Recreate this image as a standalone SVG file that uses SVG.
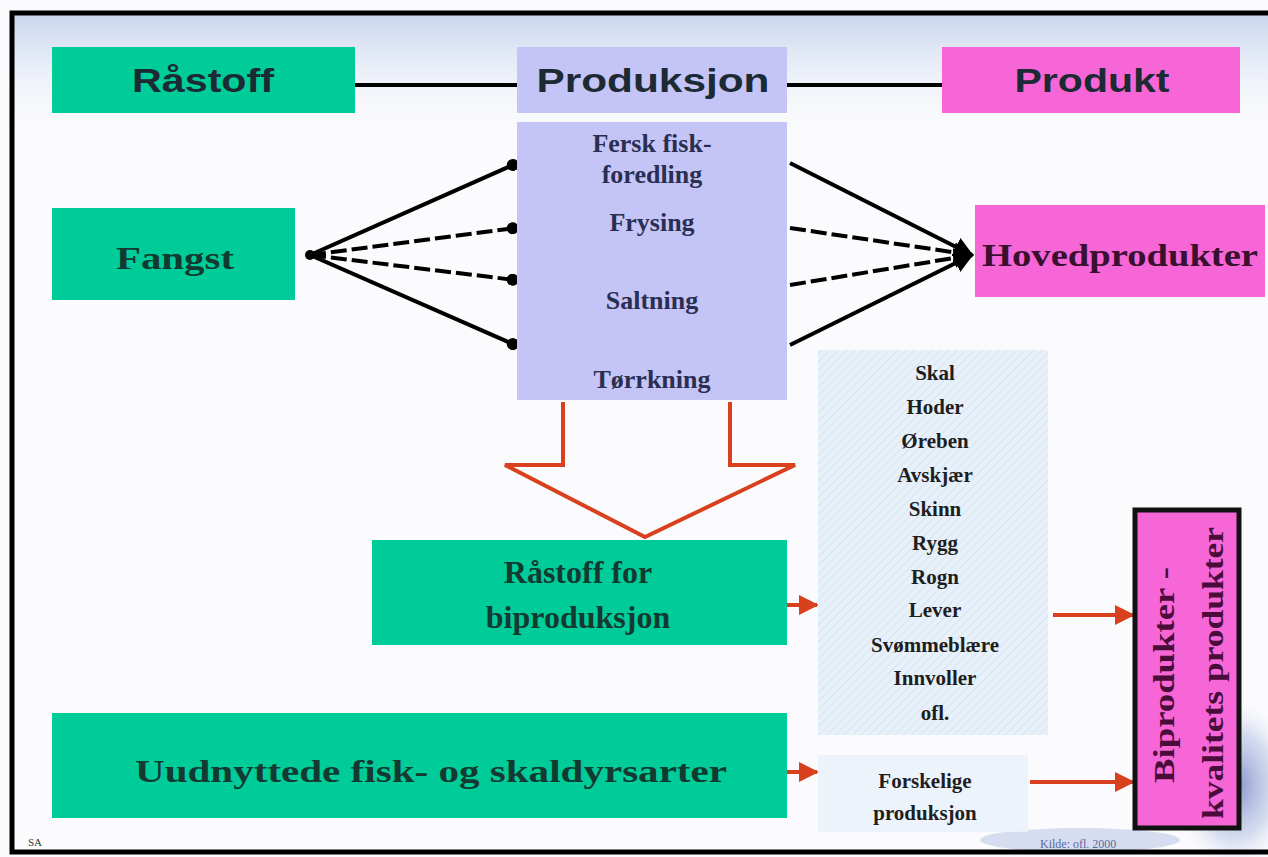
<svg xmlns="http://www.w3.org/2000/svg" width="1268" height="857" viewBox="0 0 1268 857">
  <defs>
    <linearGradient id="bgTop" x1="0" y1="0" x2="0" y2="1">
      <stop offset="0" stop-color="#c9d6ee"/>
      <stop offset="1" stop-color="#fbfbfd" stop-opacity="0"/>
    </linearGradient>
    <radialGradient id="swirl" cx="0.5" cy="0.5" r="0.5">
      <stop offset="0" stop-color="#5a6fb8" stop-opacity="0.75"/>
      <stop offset="0.6" stop-color="#a9b8e0" stop-opacity="0.45"/>
      <stop offset="1" stop-color="#ffffff" stop-opacity="0"/>
    </radialGradient>
    <pattern id="hatch" width="6" height="6" patternUnits="userSpaceOnUse" patternTransform="rotate(45)">
      <rect width="6" height="6" fill="#e8f1f9"/>
      <line x1="0" y1="0" x2="0" y2="6" stroke="#d6e4f1" stroke-width="2"/>
    </pattern>
    <marker id="dot" viewBox="0 0 10 10" refX="7" refY="5" markerWidth="3" markerHeight="3" orient="auto">
      <circle cx="5" cy="5" r="5" fill="#000"/>
    </marker>
    <marker id="blk" viewBox="0 0 10 10" refX="9" refY="5" markerWidth="5" markerHeight="5" orient="auto">
      <path d="M0,0 L10,5 L0,10 z" fill="#000"/>
    </marker>
    <marker id="red" viewBox="0 0 10 10" refX="9" refY="5" markerWidth="5" markerHeight="5" orient="auto">
      <path d="M0,0 L10,5 L0,10 z" fill="#d8401e"/>
    </marker>
    <style>
      .green { fill: #00cc99; }
      .lav { fill: #c4c4f6; }
      .pink { fill: #f766d6; }
      .hdr { font-family: "Liberation Sans", Arial, sans-serif; font-weight: bold; font-size: 34px; fill: #1b2a33; text-anchor: middle; }
      .ser { font-family: "Liberation Serif", "Times New Roman", serif; font-weight: bold; text-anchor: middle; }
      .big { font-size: 32px; fill: #123a30; }
      .mid { font-size: 26px; fill: #2a2f52; }
      .lst { font-size: 21px; fill: #1e1e1e; }
      .fan { stroke: #000; stroke-width: 4; fill: none; }
      .dash { stroke-dasharray: 16 5; }
      .redl { stroke: #d8401e; stroke-width: 4; fill: none; }
    </style>
  </defs>

  <!-- background -->
  <rect x="0" y="0" width="1268" height="857" fill="#fbfbfd"/>
  <rect x="14" y="15" width="1260" height="130" fill="url(#bgTop)"/>
  <ellipse cx="1235" cy="785" rx="65" ry="90" fill="url(#swirl)"/>
  <ellipse cx="1080" cy="840" rx="100" ry="12" fill="#a9b8e0" opacity="0.45"/>

  <!-- frame -->
  <rect x="12" y="13" width="1300" height="839" fill="none" stroke="#000" stroke-width="5"/>

  <!-- connectors -->
  <g id="connectors">
    <line x1="355" y1="85" x2="517" y2="85" stroke="#000" stroke-width="4"/>
    <line x1="787" y1="85" x2="942" y2="85" stroke="#000" stroke-width="4"/>

    <line class="fan" x1="310" y1="255" x2="515" y2="164" marker-end="url(#dot)"/>
    <line class="fan dash" x1="310" y1="255" x2="515" y2="228" marker-end="url(#dot)"/>
    <line class="fan dash" x1="310" y1="255" x2="515" y2="280" marker-end="url(#dot)"/>
    <line class="fan" x1="310" y1="255" x2="515" y2="345" marker-end="url(#dot)"/>
    <circle cx="310" cy="255" r="5" fill="#000"/>

    <line class="fan" x1="790" y1="163" x2="972" y2="255" marker-end="url(#blk)"/>
    <line class="fan dash" x1="790" y1="228" x2="972" y2="255" marker-end="url(#blk)"/>
    <line class="fan dash" x1="790" y1="285" x2="972" y2="255" marker-end="url(#blk)"/>
    <line class="fan" x1="790" y1="345" x2="972" y2="255" marker-end="url(#blk)"/>

    <polyline class="redl" points="563,402 563,465 505,465 645,537 795,465 730,465 730,402"/>

    <line class="redl" x1="773" y1="605" x2="817" y2="605" marker-end="url(#red)"/>
    <line class="redl" x1="1053" y1="615" x2="1133" y2="615" marker-end="url(#red)"/>
    <line class="redl" x1="773" y1="772" x2="817" y2="772" marker-end="url(#red)"/>
    <line class="redl" x1="1030" y1="782" x2="1133" y2="782" marker-end="url(#red)"/>
  </g>

  <!-- header nodes -->
  <g id="rastoff">
    <rect class="green" x="52" y="47" width="303" height="66"/>
    <text class="hdr" x="203" y="92" textLength="142" lengthAdjust="spacingAndGlyphs">Råstoff</text>
  </g>
  <g id="produksjon-header">
    <rect class="lav" x="517" y="47" width="270" height="66"/>
    <text class="hdr" x="653" y="92" textLength="233" lengthAdjust="spacingAndGlyphs">Produksjon</text>
  </g>
  <g id="produkt">
    <rect class="pink" x="942" y="47" width="298" height="66"/>
    <text class="hdr" x="1092" y="92" textLength="155" lengthAdjust="spacingAndGlyphs">Produkt</text>
  </g>

  <g id="fangst">
    <rect class="green" x="52" y="208" width="243" height="92"/>
    <text class="ser big" x="175" y="269" textLength="118" lengthAdjust="spacingAndGlyphs">Fangst</text>
  </g>

  <g id="produksjon-body">
    <rect class="lav" x="517" y="122" width="270" height="278"/>
    <text class="ser mid" x="652" y="152">Fersk fisk-</text>
    <text class="ser mid" x="652" y="183">foredling</text>
    <text class="ser mid" x="652" y="231">Frysing</text>
    <text class="ser mid" x="652" y="309">Saltning</text>
    <text class="ser mid" x="652" y="388">Tørrkning</text>
  </g>

  <g id="hovedprodukter">
    <rect class="pink" x="975" y="205" width="290" height="92"/>
    <text class="ser big" x="1120" y="266" style="fill:#3a1030" textLength="276" lengthAdjust="spacingAndGlyphs">Hovedprodukter</text>
  </g>

  <g id="rastoff-bi">
    <rect class="green" x="372" y="540" width="415" height="105"/>
    <text class="ser big" x="578" y="583">Råstoff for</text>
    <text class="ser big" x="578" y="628">biproduksjon</text>
  </g>

  <g id="uudnyttede">
    <rect class="green" x="52" y="713" width="735" height="105"/>
    <text class="ser big" x="431" y="782" textLength="592" lengthAdjust="spacingAndGlyphs">Uudnyttede fisk- og skaldyrsarter</text>
  </g>

  <g id="list">
    <rect x="818" y="350" width="230" height="385" fill="url(#hatch)"/>
    <text class="ser lst" x="935" y="380">Skal</text>
    <text class="ser lst" x="935" y="414">Hoder</text>
    <text class="ser lst" x="935" y="448">Øreben</text>
    <text class="ser lst" x="935" y="482">Avskjær</text>
    <text class="ser lst" x="935" y="516">Skinn</text>
    <text class="ser lst" x="935" y="550">Rygg</text>
    <text class="ser lst" x="935" y="584">Rogn</text>
    <text class="ser lst" x="935" y="617">Lever</text>
    <text class="ser lst" x="935" y="652">Svømmeblære</text>
    <text class="ser lst" x="935" y="685">Innvoller</text>
    <text class="ser lst" x="935" y="720">ofl.</text>
  </g>

  <g id="forskelige">
    <rect x="818" y="755" width="210" height="77" fill="#eaf2fa" opacity="0.9"/>
    <text class="ser lst" x="925" y="788">Forskelige</text>
    <text class="ser lst" x="925" y="820">produksjon</text>
  </g>

  <g id="biprodukter">
    <rect class="pink" x="1135" y="510" width="104" height="318" stroke="#111" stroke-width="5"/>
    <text class="ser" x="0" y="0" font-size="30" fill="#4a0c3a" transform="translate(1174,675) rotate(-90)" textLength="216" lengthAdjust="spacingAndGlyphs">Biprodukter -</text>
    <text class="ser" x="0" y="0" font-size="30" fill="#4a0c3a" transform="translate(1223,673) rotate(-90)" textLength="292" lengthAdjust="spacingAndGlyphs">kvalitets produkter</text>
  </g>

  <text x="28" y="846" font-family="Liberation Serif, serif" font-size="11" fill="#333">SA</text>
  <text x="1040" y="848" font-family="Liberation Serif, serif" font-size="12" fill="#3a4a8a" opacity="0.8">Kilde: ofl. 2000</text>
</svg>
